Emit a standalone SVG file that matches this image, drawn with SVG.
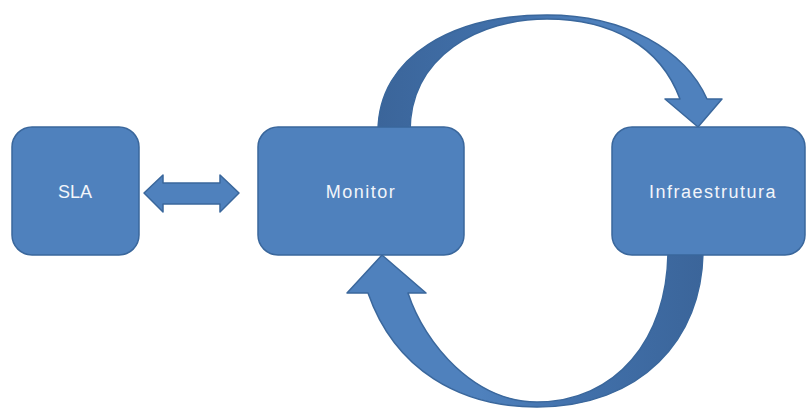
<svg xmlns="http://www.w3.org/2000/svg" width="806" height="409" viewBox="0 0 806 409">
  <defs>
    <style>
      .node { fill: #4F81BD; stroke: #3A679C; stroke-width: 1.5; }
      .conn { stroke: #3A679C; stroke-width: 1.5; stroke-linejoin: round; }
      .label { font-family: "Liberation Sans", Arial, sans-serif; font-size: 18px; fill: #F2F5FA; text-anchor: middle; }
    </style>
    <!-- back half of each loop arrow is shaded darker -->
    <linearGradient id="topShade" gradientUnits="userSpaceOnUse" x1="378" y1="0" x2="600" y2="0">
      <stop offset="0" stop-color="#3B659A"/>
      <stop offset="0.55" stop-color="#4170AA"/>
      <stop offset="1" stop-color="#4F81BD"/>
    </linearGradient>
    <linearGradient id="bottomShade" gradientUnits="userSpaceOnUse" x1="703" y1="0" x2="480" y2="0">
      <stop offset="0" stop-color="#3B659A"/>
      <stop offset="0.55" stop-color="#4170AA"/>
      <stop offset="1" stop-color="#4F81BD"/>
    </linearGradient>
  </defs>

  <g id="connectors">
    <!-- SLA <-> Monitor -->
    <path class="conn" fill="#4F81BD" d="M144,193 L163,175 L163,183 L220,183 L220,175 L239,193 L220,212 L220,204 L163,204 L163,212 Z"/>
    <!-- Monitor -> Infraestrutura (over the top), band thins at the crest -->
    <path class="conn" fill="url(#topShade)" d="M378,132 C378,55 455,15 547,15 C625,15 685,50 707,99 L722,99 L698,127 L665,99 L680,99 C660,45 610,19 547,19 C480,19 410,55 410,132 Z"/>
    <!-- Infraestrutura -> Monitor (under the bottom), band thins at the trough -->
    <path class="conn" fill="url(#bottomShade)" d="M668,250 L703,250 C703,340 640,407 537,407 C460,407 395,370 368,293 L347,293 L382,255 L426,293 L408,293 C425,345 475,402 537,402 C615,402 668,340 668,250 Z"/>
  </g>

  <g id="sla">
    <rect class="node" x="12" y="127" width="127" height="128" rx="20" ry="20"/>
    <text class="label" x="75" y="198">SLA</text>
  </g>

  <g id="monitor">
    <rect class="node" x="258" y="127" width="206" height="128" rx="20" ry="20"/>
    <text class="label" x="361" y="198" letter-spacing="1.5">Monitor</text>
  </g>

  <g id="infraestrutura">
    <rect class="node" x="612" y="127" width="193" height="128" rx="20" ry="20"/>
    <text class="label" x="713" y="198" letter-spacing="1.5">Infraestrutura</text>
  </g>
</svg>
